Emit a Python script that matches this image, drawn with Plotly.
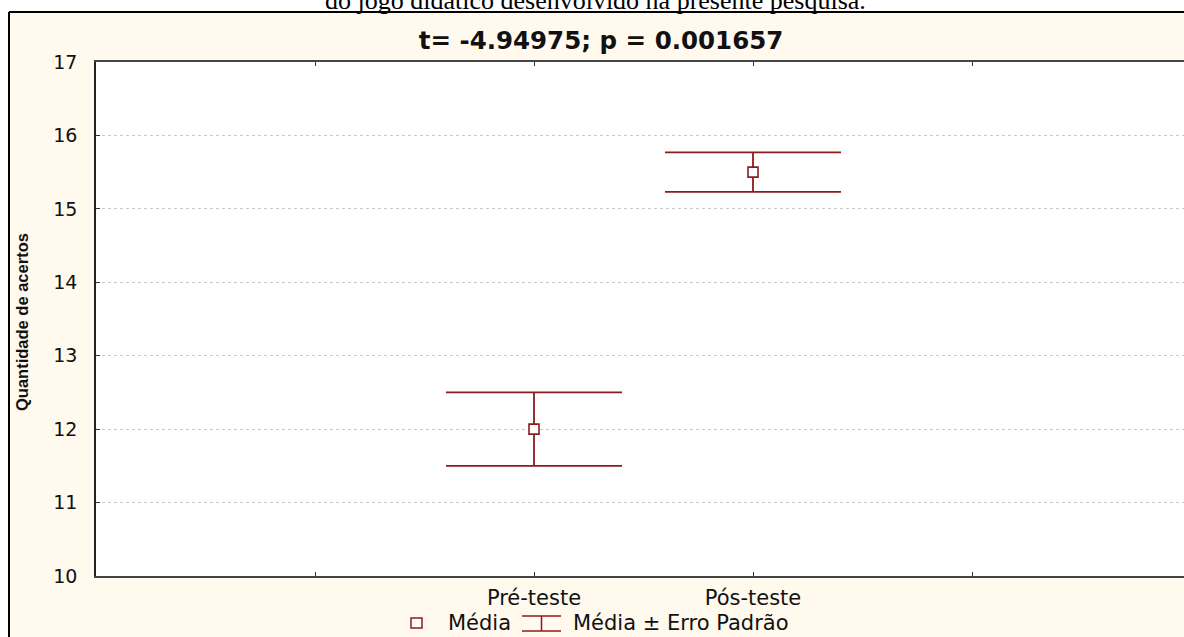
import plotly.graph_objects as go

# ---- data ----
categories = ["Pré-teste", "Pós-teste"]
means = [12.0, 15.5]
std_errors = [0.5, 0.27]
y_ticks = [10, 11, 12, 13, 14, 15, 16, 17]
title_text = "t= -4.94975; p = 0.001657"
y_title = "Quantidade de acertos"
caption = "do jogo didático desenvolvido na presente pesquisa."
legend_labels = ["Média", "Média ± Erro Padrão"]

W, H = 1184, 637
L, R, T, B = 96, 0, 62, 61
PW = W - L - R
PH = H - T - B
DARKRED = "#8E1B1B"
CREAM = "#FFF9EE"


def px(x):
    return (x - L) / PW


def py(y):
    return (H - B - y) / PH


x_idx = list(range(len(categories)))

fig = go.Figure()
fig.add_trace(go.Scatter(
    x=x_idx, y=means, mode="markers",
    marker=dict(symbol="square", size=10, color="white",
                line=dict(color=DARKRED, width=1.6)),
    error_y=dict(type="data", array=std_errors, visible=True,
                 color=DARKRED, thickness=1.8, width=88),
    showlegend=False, hoverinfo="skip",
))

tickvals_x = list(range(-2, 4))
ticktext_x = ["" if v not in x_idx else categories[v] for v in tickvals_x]

fig.update_layout(
    width=W, height=H, autosize=False,
    margin=dict(l=L, r=R, t=T, b=B, pad=0),
    paper_bgcolor=CREAM, plot_bgcolor="white",
    font=dict(family="DejaVu Sans", color="#111111"),
    title=dict(text="<b>" + title_text + "</b>", x=601 / W, xref="container",
               xanchor="center", y=1 - 40 / H, yref="container", yanchor="middle",
               font=dict(family="DejaVu Sans", size=24.5, color="#111111")),
    xaxis=dict(range=[-2, -2 + PW / 219.0], tickvals=tickvals_x, ticktext=ticktext_x,
               showgrid=False, zeroline=False, showline=True, linecolor="#444444",
               linewidth=2, mirror="ticks", ticks="inside", ticklen=4, tickcolor="#333333",
               tickfont=dict(family="DejaVu Sans", size=21, color="#111111"),
               ticklabelstandoff=2),
    yaxis=dict(range=[10, 17], tickvals=y_ticks, showgrid=True, gridcolor="#C8C8C8",
               griddash="dot", gridwidth=1, zeroline=False, showline=True,
               linecolor="#222222", linewidth=1.5, ticks="inside", ticklen=4,
               tickcolor="#333333",
               tickfont=dict(family="DejaVu Sans", size=19, color="#111111"),
               ticklabelstandoff=13),
)

shapes = []
# white strip above and left of the frame
shapes.append(dict(type="rect", xref="paper", yref="paper", x0=px(-5), x1=px(W + 5),
                   y0=py(11), y1=py(-5), fillcolor="white", line=dict(width=0), layer="below"))
shapes.append(dict(type="rect", xref="paper", yref="paper", x0=px(-5), x1=px(8),
                   y0=py(H + 5), y1=py(-5), fillcolor="white", line=dict(width=0), layer="below"))
# frame border
shapes.append(dict(type="line", xref="paper", yref="paper", x0=px(9), x1=px(W + 5),
                   y0=py(12), y1=py(12), line=dict(color="black", width=2)))
shapes.append(dict(type="line", xref="paper", yref="paper", x0=px(9), x1=px(9),
                   y0=py(12), y1=py(H + 5), line=dict(color="black", width=2)))
# legend glyphs
shapes.append(dict(type="rect", xref="paper", yref="paper", x0=px(411), x1=px(422),
                   y0=py(628), y1=py(618), fillcolor="white",
                   line=dict(color=DARKRED, width=1.5)))
shapes.append(dict(type="line", xref="paper", yref="paper", x0=px(522), x1=px(561),
                   y0=py(616), y1=py(616), line=dict(color=DARKRED, width=1.5)))
shapes.append(dict(type="line", xref="paper", yref="paper", x0=px(522), x1=px(561),
                   y0=py(631), y1=py(631), line=dict(color=DARKRED, width=1.5)))
shapes.append(dict(type="line", xref="paper", yref="paper", x0=px(541.5), x1=px(541.5),
                   y0=py(616), y1=py(631), line=dict(color=DARKRED, width=1.5)))
fig.update_layout(shapes=shapes)

annotations = [
    dict(text=caption, xref="paper", yref="paper", x=px(595), y=py(9),
         xanchor="center", yanchor="bottom", showarrow=False,
         font=dict(family="Liberation Serif", size=26, color="black"), yshift=-8),
    dict(text="<b>" + y_title + "</b>", xref="paper", yref="paper", x=px(22), y=py(322),
         xanchor="center", yanchor="middle", showarrow=False, textangle=-90,
         font=dict(family="Liberation Sans, Arial, sans-serif", size=16.5, color="#111111")),
    dict(text=legend_labels[0], xref="paper", yref="paper", x=px(446), y=py(623),
         xanchor="left", yanchor="middle", showarrow=False,
         font=dict(family="DejaVu Sans", size=21, color="#111111")),
    dict(text=legend_labels[1], xref="paper", yref="paper", x=px(571), y=py(623),
         xanchor="left", yanchor="middle", showarrow=False,
         font=dict(family="DejaVu Sans", size=21, color="#111111")),
]
fig.update_layout(annotations=annotations)

fig.write_html(
    "out.html",
    config={"displayModeBar": False},
    post_script="document.body.style.margin='0';document.body.style.overflow='hidden';",
)
